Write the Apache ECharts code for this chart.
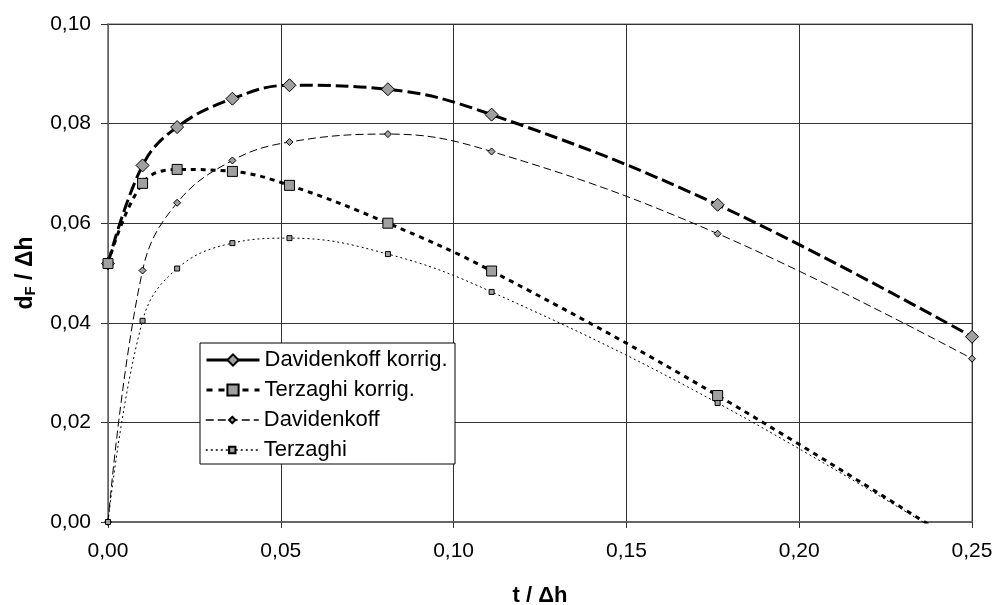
<!DOCTYPE html>
<html>
<head>
<meta charset="utf-8">
<script src="https://cdn.jsdelivr.net/npm/echarts@6/dist/echarts.min.js"></script>
<style>
html,body{margin:0;padding:0;background:#fff;}
#chart{width:995px;height:605px;}
</style>
</head>
<body>
<div id="chart"></div>
<script>
// t / Δh values (shared by all series)
var tValues = [0, 0.01, 0.02, 0.036, 0.0525, 0.081, 0.111, 0.1764, 0.25];
// d_F / Δh values
var davidenkoffKorrig = [0.0519, 0.0716, 0.0793, 0.0850, 0.0877, 0.0869, 0.0818, 0.0637, 0.0372];
var terzaghiKorrig    = [0.0519, 0.0680, 0.0708, 0.0704, 0.0676, 0.0600, 0.0504, 0.0254, -0.0060];
var davidenkoff       = [0, 0.0505, 0.0641, 0.0726, 0.0763, 0.0779, 0.0744, 0.0579, 0.0328];
var terzaghi          = [0, 0.0404, 0.0509, 0.0560, 0.0570, 0.0538, 0.0462, 0.0239, -0.0060];
var seriesNames = ['Davidenkoff korrig.', 'Terzaghi korrig.', 'Davidenkoff', 'Terzaghi'];
var xTicks = [0, 0.05, 0.10, 0.15, 0.20, 0.25];
var yTicks = [0, 0.02, 0.04, 0.06, 0.08, 0.10];

function pairs(ys) { return tValues.map(function (x, i) { return [x, ys[i]]; }); }
function fmt(v) { return v.toFixed(2).replace('.', ','); }

var FONT = 'Liberation Sans, Arial, sans-serif';
var chart = echarts.init(document.getElementById('chart'), null, { renderer: 'canvas' });

function mk(name, data, symbol, size, width, dash) {
  return {
    name: name, type: 'line', data: pairs(data), smooth: 0.4,
    symbol: symbol, symbolSize: size, showSymbol: true, clip: true,
    lineStyle: { color: '#000', width: width, type: dash },
    itemStyle: { color: '#a0a0a0', borderColor: '#000', borderWidth: 1 },
    emphasis: { disabled: true }, animation: false
  };
}

var legendCommon = {
  orient: 'vertical', left: 205, padding: 0, itemWidth: 53, itemGap: 8,
  textStyle: { fontSize: 22, color: '#000', fontFamily: FONT },
  selectedMode: false, z: 5
};

chart.setOption({
  animation: false,
  backgroundColor: '#fff',
  textStyle: { fontFamily: FONT, color: '#000' },
  grid: {
    left: 108, right: 23, top: 24, bottom: 83, show: true,
    borderColor: '#999', borderWidth: 1.5,
    containLabel: false, outerBoundsMode: 'none'
  },
  xAxis: {
    type: 'value', min: xTicks[0], max: xTicks[xTicks.length - 1], interval: 0.05,
    name: 't / Δh', nameLocation: 'middle', nameGap: 63,
    nameTextStyle: { fontSize: 22, fontWeight: 'bold', fontFamily: FONT, color: '#000' },
    axisLine: { show: true, lineStyle: { color: '#666', width: 2 } },
    axisTick: { show: true, length: 6, lineStyle: { color: '#333' } },
    axisLabel: { fontSize: 21, color: '#000', margin: 19, formatter: fmt, fontFamily: FONT },
    splitLine: { show: true, lineStyle: { color: '#333', width: 1 } }
  },
  yAxis: {
    type: 'value', min: yTicks[0], max: yTicks[yTicks.length - 1], interval: 0.02,
    name: '{b|d}{s|F}{b| / Δh}', nameLocation: 'middle', nameGap: 70, nameRotate: 90,
    nameTextStyle: {
      fontFamily: FONT, color: '#000',
      rich: {
        b: { fontSize: 23, fontWeight: 'bold', fontFamily: FONT, color: '#000' },
        s: { fontSize: 15, fontWeight: 'bold', fontFamily: FONT, color: '#000', padding: [10, 0, 0, 0] }
      }
    },
    axisLine: { show: true, lineStyle: { color: '#777', width: 1.5 } },
    axisTick: { show: true, length: 7, lineStyle: { color: '#333' } },
    axisLabel: { fontSize: 21, color: '#000', margin: 17, formatter: fmt, fontFamily: FONT },
    splitLine: { show: true, lineStyle: { color: '#333', width: 1 } }
  },
  graphic: [{
    type: 'rect', z: 4, silent: true,
    shape: { x: 200, y: 343, width: 255, height: 121 },
    style: { fill: '#fff', stroke: '#000', lineWidth: 1 }
  }],
  legend: [
    Object.assign({}, legendCommon, {
      top: 349, itemHeight: 14,
      data: [
        { name: seriesNames[0], lineStyle: { type: 'solid', width: 3, color: '#000' } },
        { name: seriesNames[1], lineStyle: { type: [6, 6], width: 3, color: '#000' } }
      ]
    }),
    Object.assign({}, legendCommon, {
      top: 409, itemHeight: 8,
      data: [
        { name: seriesNames[2], lineStyle: { type: [8, 4], width: 1.5, color: '#000' } },
        { name: seriesNames[3], lineStyle: { type: [2, 3], width: 1.5, color: '#000' } }
      ]
    })
  ],
  series: [
    mk(seriesNames[0], davidenkoffKorrig, 'diamond', 13, 3, [13, 5]),
    mk(seriesNames[1], terzaghiKorrig, 'rect', 10, 3, [5, 5]),
    mk(seriesNames[2], davidenkoff, 'diamond', 7, 1, [8, 4]),
    mk(seriesNames[3], terzaghi, 'rect', 5, 1, [2, 3])
  ]
});
</script>
</body>
</html>
